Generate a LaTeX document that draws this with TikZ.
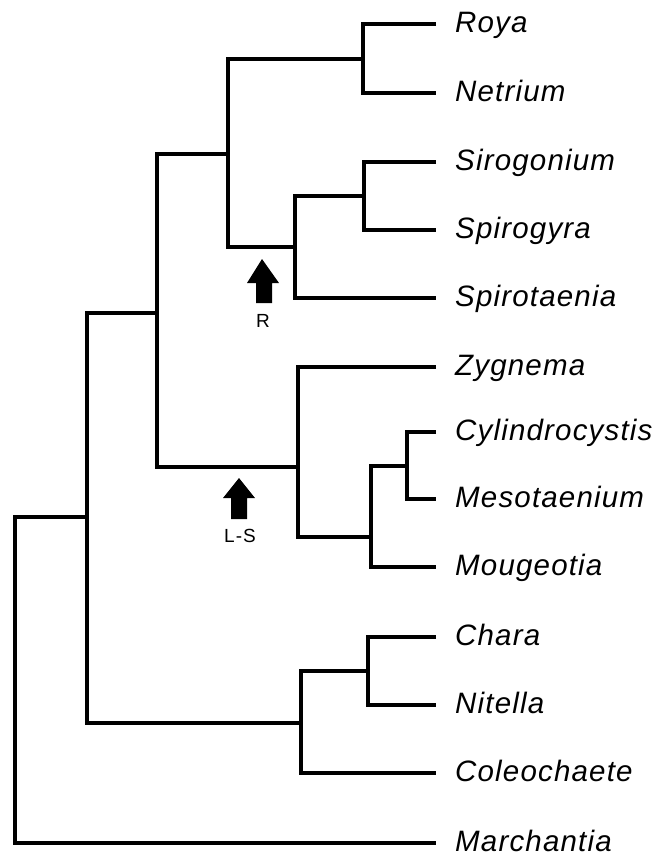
\documentclass[tikz,border=0pt]{standalone}
\usepackage{fontspec}
\setmainfont{Liberation Sans}
\newfontfamily\taxafont[LetterSpace=4]{Liberation Sans}
\newfontfamily\markfont[LetterSpace=6]{Liberation Sans}
\begin{document}
\begin{tikzpicture}[x=1pt,y=-1pt,
  branch/.style={line width=4.5pt,line join=miter,black},
  taxon/.style={anchor=base west,inner sep=0pt,font=\taxafont\fontsize{29.5}{30}\selectfont\itshape},
  marker/.style={fill=black,draw=none},
  mlabel/.style={inner sep=0pt,font=\markfont\fontsize{19}{20}\selectfont}]
\useasboundingbox (0,0) rectangle (672,857);
% leaf tips
\foreach \n/\y in {roya/24,netr/93,siro/162,spiro/230,spirot/298,zyg/367,cyl/432,meso/499,moug/567,chara/637,nit/705,coleo/773,march/843}
  {\coordinate (\n) at (436,\y);}
% labels
\node[taxon] (lroya)   at (455,24+8)  {Roya};
\node[taxon] (lnetr)   at (455,93+8)  {Netrium};
\node[taxon] (lsiro)   at (455,162+8) {Sirogonium};
\node[taxon] (lspiro)  at (455,230+8) {Spirogyra};
\node[taxon] (lspirot) at (455,298+8) {Spirotaenia};
\node[taxon] (lzyg)    at (455,367+8) {Zygnema};
\node[taxon] (lcyl)    at (455,432+8) {Cylindrocystis};
\node[taxon] (lmeso)   at (455,499+8) {Mesotaenium};
\node[taxon] (lmoug)   at (455,567+8) {Mougeotia};
\node[taxon] (lchara)  at (455,637+8) {Chara};
\node[taxon] (lnit)    at (455,705+8) {Nitella};
\node[taxon] (lcoleo)  at (455,773+8) {Coleochaete};
\node[taxon] (lmarch)  at (455,843+8) {Marchantia};
% internal nodes
\coordinate (n1) at (363,59);
\coordinate (n2) at (364,196);
\coordinate (n3) at (295,247);
\coordinate (n4) at (228,154);
\coordinate (n5) at (407,466);
\coordinate (n6) at (371,537);
\coordinate (n7) at (298,467);
\coordinate (n8) at (157,313);
\coordinate (n9) at (368,671);
\coordinate (n10) at (301,723);
\coordinate (n11) at (87,517);
\coordinate (root) at (15,517);
% branches
\draw[branch] (roya) -| (n1) |- (netr);
\draw[branch] (siro) -| (n2) |- (spiro);
\draw[branch] (n2) -| (n3) |- (spirot);
\draw[branch] (n1) -| (n4) |- (n3);
\draw[branch] (cyl) -| (n5) |- (meso);
\draw[branch] (n5) -| (n6) |- (moug);
\draw[branch] (zyg) -| (n7) |- (n6);
\draw[branch] (n4) -| (n8) |- (n7);
\draw[branch] (chara) -| (n9) |- (nit);
\draw[branch] (n9) -| (n10) |- (coleo);
\draw[branch] (n8) -| (n11) |- (n10);
\draw[branch] (n11) -- (root) |- (march);
% markers
\fill[marker] (262,259) -- (279,283) -- (272,283) -- (272,303) -- (256,303) -- (256,283) -- (247,283) -- cycle;
\node[mlabel] (lR) at (263,321) {R};
\fill[marker] (239,478) -- (255,498) -- (247,498) -- (247,519) -- (231,519) -- (231,498) -- (223,498) -- cycle;
\node[mlabel] (lLS) at (240,536) {L-S};
\end{tikzpicture}
\end{document}
